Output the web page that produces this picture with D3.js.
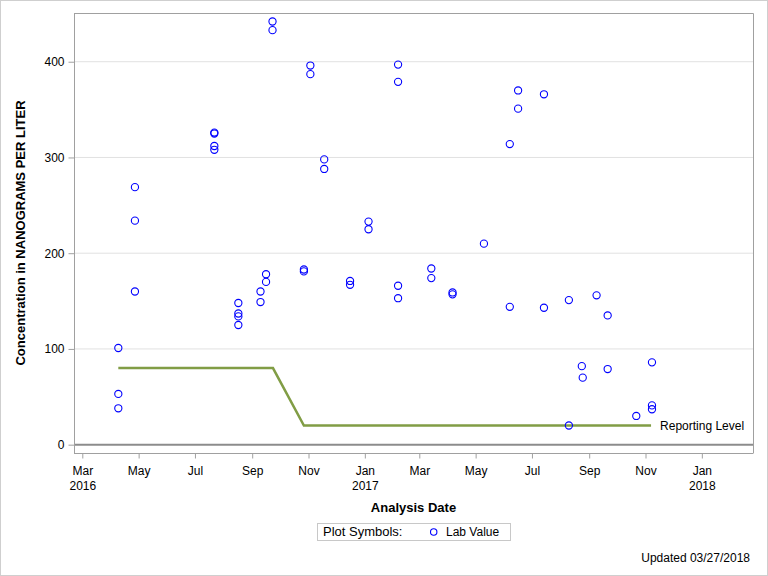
<!DOCTYPE html>
<html>
<head>
<meta charset="utf-8">
<script src="https://cdn.jsdelivr.net/npm/d3@7"></script>
<style>
  html, body { margin: 0; padding: 0; background: #fff; }
  svg { display: block; font-family: "Liberation Sans", Arial, sans-serif; }
</style>
</head>
<body>
<svg id="chart" width="768" height="576"></svg>
<script>
// ---- data ----
const sampleDates = [
  "2016-04-09","2016-04-09","2016-04-09",
  "2016-04-27","2016-04-27","2016-04-27",
  "2016-07-22","2016-07-22","2016-07-22","2016-07-22",
  "2016-08-17","2016-08-17","2016-08-17","2016-08-17",
  "2016-09-10","2016-09-10",
  "2016-09-16","2016-09-16",
  "2016-09-23","2016-09-23",
  "2016-10-27","2016-10-27",
  "2016-11-03","2016-11-03",
  "2016-11-18","2016-11-18",
  "2016-12-16","2016-12-16",
  "2017-01-05","2017-01-05",
  "2017-02-06","2017-02-06","2017-02-06","2017-02-06",
  "2017-03-14","2017-03-14",
  "2017-04-06","2017-04-06",
  "2017-05-10",
  "2017-06-07","2017-06-07",
  "2017-06-16","2017-06-16",
  "2017-07-14","2017-07-14",
  "2017-08-10","2017-08-10",
  "2017-08-24","2017-08-25",
  "2017-09-09",
  "2017-09-21","2017-09-21",
  "2017-10-22",
  "2017-11-08","2017-11-08","2017-11-08"
];
const labValues = [
  101, 53, 38,
  269, 234, 160,
  326, 325, 312, 308,
  148, 137, 134, 125,
  160, 149,
  178, 170,
  442, 433,
  183, 181,
  396, 387,
  298, 288,
  171, 167,
  233, 225,
  397, 379, 166, 153,
  184, 174,
  159, 157,
  210,
  314, 144,
  370, 351,
  366, 143,
  151, 20,
  82, 70,
  156,
  135, 79,
  30,
  86, 41, 37
];
const reportingDates  = ["2016-04-09", "2016-09-23T12:00", "2016-10-27", "2017-11-07"];
const reportingLevels = [80, 80, 20, 20];
const yTickValues = [0, 100, 200, 300, 400];
const yearLabelDates = ["2016-03-01", "2017-01-01", "2018-01-01"];

// ---- layout ----
const svg = d3.select("#chart");
const W = 768, H = 576;
const L = 74, R = 753, T = 13, B = 453;
const parse = s => new Date(s.length > 10 ? s + ":00Z" : s + "T00:00:00Z");

// outer border
svg.append("rect").attr("x", 0.5).attr("y", 0.5).attr("width", W - 1).attr("height", H - 1)
  .attr("fill", "#fff").attr("stroke", "#cfcfcf");

const x = d3.scaleUtc()
  .domain([parse("2016-02-21"), parse("2018-02-25T10:00")])
  .range([L, R]);
const y = d3.scaleLinear().domain([-8.7, 450.9]).range([B, T]);

// gridlines
svg.append("g").selectAll("line").data(yTickValues.filter(d => d > 0)).join("line")
  .attr("x1", L).attr("x2", R)
  .attr("y1", d => y(d)).attr("y2", d => y(d))
  .attr("stroke", "#e1e1e1").attr("stroke-width", 1);

// zero reference line
svg.append("line").attr("x1", L).attr("x2", R)
  .attr("y1", y(0)).attr("y2", y(0))
  .attr("stroke", "#8c8c8c").attr("stroke-width", 2);

// frame (top, right)
svg.append("path")
  .attr("d", `M${L},${T + 0.5}H${R + 0.5}V${B}`)
  .attr("fill", "none").attr("stroke", "#a0a0a0");

// y axis
const yAxis = svg.append("g").attr("transform", `translate(${L + 0.5},0)`)
  .call(d3.axisLeft(y).tickValues(yTickValues).tickSize(6).tickPadding(4));
yAxis.select(".domain").attr("stroke", "#a0a0a0").attr("d", `M0,${T}V${B + 0.5}`);
yAxis.selectAll(".tick line").attr("stroke", "#a0a0a0");
yAxis.selectAll(".tick text").attr("font-size", 12).attr("fill", "#000")
  .attr("font-family", "Liberation Sans, Arial, sans-serif");

// x axis
const fmtMonth = d3.utcFormat("%b");
const yearSet = new Set(yearLabelDates.map(s => parse(s).getTime()));
const xAxis = svg.append("g").attr("transform", `translate(0,${B + 0.5})`)
  .call(d3.axisBottom(x).ticks(d3.utcMonth.every(2)).tickSize(5).tickFormat(""));
xAxis.select(".domain").attr("stroke", "#a0a0a0").attr("d", `M${L},0H${R + 0.5}`);
xAxis.selectAll(".tick line").attr("stroke", "#a0a0a0");
xAxis.selectAll(".tick text").remove();
xAxis.selectAll(".tick").each(function(d) {
  const g = d3.select(this);
  const t = g.append("text").attr("fill", "#000").attr("font-size", 12)
    .attr("text-anchor", "middle").attr("y", 21.5).text(fmtMonth(d));
  if (yearSet.has(d.getTime())) {
    g.append("text").attr("fill", "#000").attr("font-size", 12)
      .attr("text-anchor", "middle").attr("y", 36).text(d3.utcFormat("%Y")(d));
  }
});

// reporting level line
const repData = reportingDates.map((d, i) => ({ date: parse(d), value: reportingLevels[i] }));
svg.append("path").datum(repData)
  .attr("fill", "none").attr("stroke", "#819d45").attr("stroke-width", 2.5)
  .attr("d", d3.line().x(d => x(d.date)).y(d => y(d.value)));
const last = repData[repData.length - 1];
svg.append("text").attr("x", x(last.date) + 9).attr("y", y(last.value) + 4.5)
  .attr("font-size", 12).attr("fill", "#000").text("Reporting Level");

// lab value points
const pts = sampleDates.map((d, i) => ({ date: parse(d), value: labValues[i] }));
svg.append("g").selectAll("circle").data(pts).join("circle")
  .attr("cx", d => x(d.date)).attr("cy", d => y(d.value)).attr("r", 3.6)
  .attr("fill", "none").attr("stroke", "#0000ff").attr("stroke-width", 1.1);

// axis titles
svg.append("text").attr("transform", `translate(25,${(T + B) / 2}) rotate(-90)`)
  .attr("text-anchor", "middle").attr("font-size", 13).attr("font-weight", "bold")
  .attr("fill", "#000").text("Concentration in NANOGRAMS PER LITER");
svg.append("text").attr("x", (L + R) / 2).attr("y", 512)
  .attr("text-anchor", "middle").attr("font-size", 13).attr("font-weight", "bold")
  .attr("fill", "#000").text("Analysis Date");

// legend
svg.append("rect").attr("x", 317.5).attr("y", 523.5).attr("width", 193).attr("height", 17)
  .attr("fill", "none").attr("stroke", "#c8c8c8");
svg.append("text").attr("x", 323).attr("y", 536).attr("font-size", 13)
  .attr("fill", "#000").text("Plot Symbols:");
svg.append("circle").attr("cx", 433.7).attr("cy", 532).attr("r", 3.2)
  .attr("fill", "none").attr("stroke", "#0000ff").attr("stroke-width", 1.1);
svg.append("text").attr("x", 446).attr("y", 536).attr("font-size", 12)
  .attr("fill", "#000").text("Lab Value");

// footnote
svg.append("text").attr("x", 750).attr("y", 562).attr("text-anchor", "end")
  .attr("font-size", 12).attr("fill", "#000").text("Updated 03/27/2018");
</script>
</body>
</html>
